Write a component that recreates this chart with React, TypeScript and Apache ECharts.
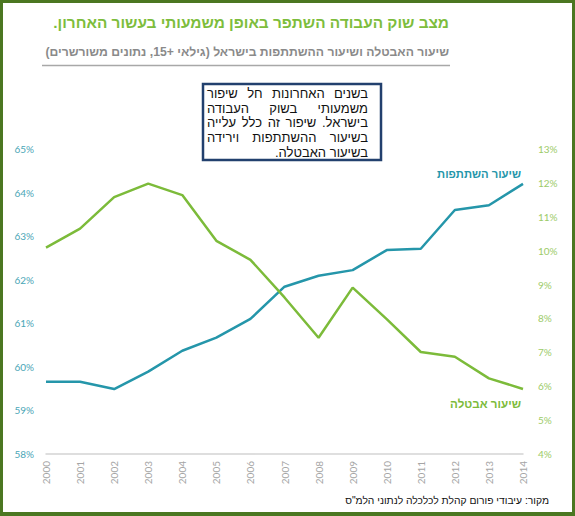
import React, { useEffect, useRef } from "react";
import * as echarts from "echarts";

// Years on the category axis
const years = [
  "2000", "2001", "2002", "2003", "2004", "2005", "2006", "2007",
  "2008", "2009", "2010", "2011", "2012", "2013", "2014",
];

// Labour force participation rate (%), left axis
const participation = [
  59.66, 59.66, 59.49, 59.89, 60.37, 60.67, 61.1, 61.84,
  62.09, 62.22, 62.68, 62.71, 63.6, 63.71, 64.2,
];

// Unemployment rate (%), right axis
const unemployment = [
  10.09, 10.65, 11.58, 11.98, 11.64, 10.29, 9.73, 8.62,
  7.43, 8.91, 7.98, 7.01, 6.87, 6.23, 5.92,
];

const RLM = "\u200F";

const titleText = "מצב שוק העבודה השתפר באופן משמעותי בעשור האחרון.";
const subtitleText = "שיעור האבטלה ושיעור ההשתתפות בישראל (גילאי +15, נתונים משורשרים)";
const sourceText = 'מקור: עיבודי פורום קהלת לכלכלה לנתוני הלמ"ס';
const participationLabel = "שיעור השתתפות";
const unemploymentLabel = "שיעור אבטלה";
const noteLines = [
  "בשנים האחרונות חל שיפור",
  "משמעותי בשוק העבודה",
  "בישראל. שיפור זה כלל עלייה",
  "בשיעור ההשתתפות וירידה",
  "בשיעור האבטלה.",
];

const TEAL = "#2596aa";
const GREEN = "#7cbb3a";
const FRAME = "#4b7721";
const FAMILY = '"Liberation Sans", Arial, sans-serif';
const NOTE_FONT = "13px " + FAMILY;

const measureCtx = (): CanvasRenderingContext2D =>
  document.createElement("canvas").getContext("2d")!;

// Picks the font size at which a line of text spans the given width.
function fitSize(text: string, weight: string, width: number) {
  const ctx = measureCtx();
  ctx.font = `${weight} 20px ${FAMILY}`;
  const w = ctx.measureText(text).width;
  return (20 * width) / w;
}

// Builds a justified right-to-left paragraph as separate word elements.
function buildNote(left: number, right: number, top: number, lineH: number) {
  const ctx = measureCtx();
  ctx.font = NOTE_FONT;
  const width = right - left;
  const els: any[] = [];
  noteLines.forEach((line, i) => {
    const y = top + i * lineH;
    const last = i === noteLines.length - 1;
    if (last) {
      els.push({
        type: "text",
        x: right,
        y,
        style: {
          text: RLM + line + RLM,
          font: NOTE_FONT,
          fill: "#111",
          align: "right",
          verticalAlign: "middle",
        },
      });
      return;
    }
    const words = line.split(" ");
    const widths = words.map((w) => ctx.measureText(w).width);
    const total = widths.reduce((a, b) => a + b, 0);
    const gap = words.length > 1 ? (width - total) / (words.length - 1) : 0;
    let x = right;
    words.forEach((w, k) => {
      els.push({
        type: "text",
        x,
        y,
        style: {
          text: RLM + w + RLM,
          font: NOTE_FONT,
          fill: "#111",
          align: "right",
          verticalAlign: "middle",
        },
      });
      x -= widths[k] + gap;
    });
  });
  return els;
}

export default function App() {
  const ref = useRef<HTMLDivElement>(null);

  useEffect(() => {
    document.body.style.margin = "0";
    const chart = echarts.init(ref.current!, null, { renderer: "svg" });

    const axisFont = "Lato, sans-serif";
    const titleSize = fitSize(titleText, "bold", 396);
    const subtitleSize = fitSize(subtitleText, "bold", 404);
    const sourceSize = fitSize(sourceText, "normal", 204);
    const partSize = fitSize(participationLabel, "bold", 84);
    const unempSize = fitSize(unemploymentLabel, "bold", 71);

    chart.setOption({
      animation: false,
      backgroundColor: "#ffffff",
      grid: { left: 46, right: 52, top: 149, bottom: 62 },
      xAxis: {
        type: "category",
        data: years,
        boundaryGap: false,
        axisLine: { show: true, lineStyle: { color: "#d4d4d4", width: 1.5 } },
        axisTick: { show: false },
        axisLabel: {
          rotate: 90,
          color: "#a5a5a5",
          fontFamily: axisFont,
          fontSize: 10,
          margin: 7,
        },
      },
      yAxis: [
        {
          type: "value",
          min: 58,
          max: 65,
          interval: 1,
          position: "left",
          splitLine: { show: false },
          axisLine: { show: false },
          axisTick: { show: false },
          axisLabel: {
            formatter: "{value}%",
            color: "#4aa6b6",
            fontFamily: axisFont,
            fontSize: 10,
            margin: 12,
          },
        },
        {
          type: "value",
          min: 4,
          max: 13,
          interval: 1,
          position: "right",
          splitLine: { show: false },
          axisLine: { show: false },
          axisTick: { show: false },
          axisLabel: {
            formatter: "{value}%",
            color: "#9ccb68",
            fontFamily: axisFont,
            fontSize: 10,
            margin: 15,
          },
        },
      ],
      series: [
        {
          name: participationLabel,
          type: "line",
          yAxisIndex: 0,
          data: participation,
          symbol: "none",
          lineStyle: { color: TEAL, width: 2.5 },
        },
        {
          name: unemploymentLabel,
          type: "line",
          yAxisIndex: 1,
          data: unemployment,
          symbol: "none",
          lineStyle: { color: GREEN, width: 2.5 },
        },
      ],
      graphic: [
        // outer frame
        { type: "rect", shape: { x: 0, y: 0, width: 575, height: 3 }, style: { fill: FRAME } },
        { type: "rect", shape: { x: 0, y: 0, width: 3, height: 516 }, style: { fill: FRAME } },
        { type: "rect", shape: { x: 572, y: 0, width: 3, height: 516 }, style: { fill: FRAME } },
        { type: "rect", shape: { x: 0, y: 512, width: 575, height: 4 }, style: { fill: FRAME } },
        // title
        {
          type: "text",
          x: 449,
          y: 22,
          style: {
            text: RLM + titleText + RLM,
            font: `bold ${titleSize}px ${FAMILY}`,
            fill: "#7dbd3c",
            align: "right",
            verticalAlign: "middle",
          },
        },
        // subtitle and its underline
        {
          type: "text",
          x: 449,
          y: 52,
          style: {
            text: RLM + subtitleText + RLM,
            font: `bold ${subtitleSize}px ${FAMILY}`,
            fill: "#8a8a8a",
            align: "right",
            verticalAlign: "middle",
          },
        },
        {
          type: "line",
          shape: { x1: 42, y1: 65.5, x2: 450, y2: 65.5 },
          style: { stroke: "#a8a8a8", lineWidth: 1.5 },
        },
        // note box
        {
          type: "rect",
          shape: { x: 203, y: 84, width: 178, height: 76 },
          style: { fill: "#ffffff", stroke: "#22406e", lineWidth: 2.5 },
        },
        ...buildNote(207, 368, 93.5, 14.7),
        // series labels
        {
          type: "text",
          x: 521,
          y: 174,
          style: {
            text: participationLabel,
            font: `bold ${partSize}px ${FAMILY}`,
            fill: TEAL,
            align: "right",
            verticalAlign: "middle",
          },
        },
        {
          type: "text",
          x: 521,
          y: 403,
          style: {
            text: unemploymentLabel,
            font: `bold ${unempSize}px ${FAMILY}`,
            fill: GREEN,
            align: "right",
            verticalAlign: "middle",
          },
        },
        // source
        {
          type: "text",
          x: 549,
          y: 500,
          style: {
            text: RLM + sourceText + RLM,
            font: `${sourceSize}px ${FAMILY}`,
            fill: "#111",
            align: "right",
            verticalAlign: "middle",
          },
        },
      ],
    });

    return () => chart.dispose();
  }, []);

  return (
    <div
      ref={ref}
      style={{ position: "absolute", left: 0, top: 0, width: 575, height: 516 }}
    />
  );
}
